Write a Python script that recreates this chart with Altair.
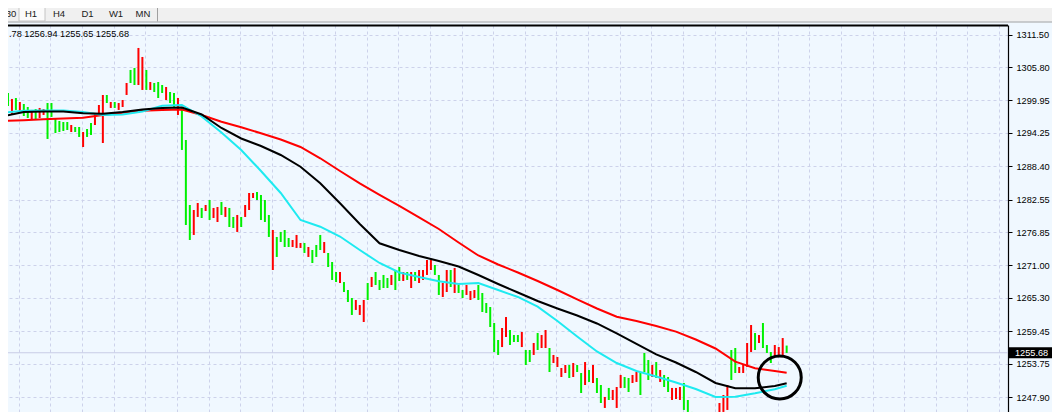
import altair as alt
import pandas as pd

# ---------------- data ----------------
# one bar every 4 px (bar index i); high / low prices and bar colour (G = up, R = down)
BAR_HIGH = [
    1301.80, 1301.27, 1300.22, 1300.39, 1299.69, 1299.34, 1298.81, 1298.29, 1298.46, 1298.64,
    1298.46, 1299.51, 1299.51, 1296.88, 1296.35, 1296.18, 1296.18, 1295.65, 1295.30, 1295.30,
    1294.42, 1294.95, 1296.00, 1297.76, 1299.16, 1300.92, 1300.92, 1299.69, 1299.69, 1299.51,
    1300.04, 1303.02, 1305.31, 1305.66, 1309.17, 1307.59, 1305.31, 1303.20, 1303.02, 1303.20,
    1302.67, 1302.32, 1301.44, 1301.27, 1300.39, 1298.81, 1293.02, 1281.61, 1280.73, 1281.96,
    1281.09, 1281.61, 1282.49, 1281.09, 1281.26, 1282.14, 1281.26, 1281.09, 1279.51, 1279.86,
    1279.51, 1281.61, 1283.72, 1283.72, 1283.89, 1283.37, 1282.49, 1279.86, 1277.22, 1276.00,
    1276.88, 1277.22, 1275.82, 1275.47, 1276.35, 1274.94, 1274.94, 1274.24, 1273.71, 1274.59,
    1276.35, 1275.12, 1273.19, 1271.61, 1269.85, 1269.85, 1268.09, 1266.69, 1265.29, 1264.94,
    1264.06, 1264.94, 1267.92, 1268.98, 1269.85, 1268.45, 1269.33, 1268.80, 1269.33, 1270.20,
    1270.73, 1269.85, 1269.85, 1269.85, 1269.85, 1270.20, 1270.20, 1271.96, 1271.96, 1271.08,
    1269.33, 1267.92, 1270.20, 1270.20, 1270.56, 1267.57, 1266.69, 1267.57, 1266.52, 1266.69,
    1267.57, 1266.17, 1264.41, 1263.71, 1260.90, 1257.92, 1260.02, 1261.95, 1259.67, 1258.79,
    1258.79, 1259.32, 1256.16, 1256.16, 1257.39, 1259.14, 1258.79, 1259.67, 1256.51, 1255.29,
    1254.93, 1253.00, 1253.53, 1253.53, 1253.88, 1253.53, 1252.12, 1254.05, 1252.65, 1253.53,
    1251.25, 1250.02, 1247.92, 1249.50, 1249.15, 1249.67, 1251.78, 1251.42, 1251.25, 1251.78,
    1252.30, 1252.30, 1255.64, 1254.41, 1253.53, 1254.05, 1252.65, 1251.78, 1251.42, 1249.50,
    1249.50, 1249.67, 1250.37, 1247.39, 1245.29, 1244.76, 1244.23, 1243.88, 1244.23, 1244.58,
    1244.93, 1246.86, 1248.26, 1250.02, 1256.16, 1256.51, 1253.18, 1253.53, 1257.39, 1260.55,
    1259.14, 1258.79, 1260.90, 1257.04, 1255.81, 1257.04, 1256.68, 1258.26, 1256.94,
]
BAR_LOW = [
    1298.64, 1298.99, 1297.41, 1298.29, 1297.76, 1297.23, 1296.88, 1296.53, 1296.53, 1296.88,
    1297.41, 1293.20, 1297.06, 1294.25, 1294.42, 1294.60, 1294.77, 1294.42, 1294.42, 1293.55,
    1291.79, 1293.55, 1293.90, 1295.65, 1297.41, 1292.49, 1299.51, 1298.64, 1298.64, 1298.29,
    1298.81, 1300.92, 1303.02, 1302.67, 1302.67, 1301.80, 1301.80, 1301.80, 1301.44, 1300.39,
    1301.27, 1300.04, 1299.51, 1298.81, 1297.41, 1291.27, 1278.10, 1275.47, 1276.35, 1279.51,
    1279.33, 1280.56, 1278.98, 1279.33, 1278.63, 1279.86, 1279.51, 1277.75, 1277.58, 1276.88,
    1277.75, 1279.51, 1280.73, 1282.84, 1282.49, 1278.98, 1278.63, 1276.00, 1270.20, 1272.49,
    1275.12, 1274.24, 1274.24, 1274.24, 1274.07, 1274.07, 1273.19, 1272.49, 1271.43, 1272.49,
    1273.71, 1273.19, 1270.73, 1268.45, 1268.09, 1267.92, 1266.34, 1264.59, 1262.31, 1263.19,
    1262.31, 1261.08, 1264.94, 1267.22, 1267.57, 1266.69, 1267.04, 1267.04, 1267.57, 1266.69,
    1268.27, 1268.27, 1268.45, 1267.04, 1268.27, 1267.92, 1268.45, 1269.33, 1270.20, 1269.33,
    1265.82, 1265.46, 1266.34, 1267.22, 1266.17, 1266.17, 1265.29, 1265.82, 1264.94, 1265.29,
    1264.94, 1262.83, 1262.66, 1260.20, 1255.81, 1255.29, 1256.68, 1258.44, 1257.04, 1257.56,
    1257.56, 1256.68, 1253.53, 1254.05, 1255.29, 1256.16, 1256.51, 1256.51, 1252.30, 1253.88,
    1253.18, 1251.42, 1252.12, 1251.25, 1251.42, 1252.30, 1248.61, 1250.02, 1250.55, 1250.37,
    1248.61, 1246.86, 1245.99, 1247.39, 1247.39, 1245.99, 1249.50, 1249.50, 1248.79, 1250.37,
    1250.55, 1248.26, 1252.30, 1250.90, 1251.42, 1251.25, 1250.55, 1249.67, 1248.79, 1247.39,
    1247.56, 1247.39, 1245.64, 1245.29, 1243.01, 1242.48, 1241.78, 1242.13, 1241.78, 1242.48,
    1242.83, 1244.76, 1245.29, 1245.64, 1250.90, 1252.12, 1252.12, 1252.12, 1253.18, 1255.81,
    1256.16, 1257.39, 1256.51, 1255.64, 1253.88, 1254.93, 1255.29, 1255.29, 1255.65,
]
BAR_DIR = list(
    "RGRGRGGRGR" "RGGGGGGRGG" "RGGRRRGRGR" "RRGGRRGRGG" "GRGGRGGGRR"
    "GRGRRGRGGR" "GRRRGGGGRG" "GGGRRRGRGG" "GRGGGRGGGR" "RRGRGGGGRG"
    "GRGRGRRRRG" "GRRGRGGRRR" "GGGGGGRRGG" "GRGGRGRRGR" "RRRGRGGRGR"
    "GGRGRRRGGR" "RGGGRGRGGR" "RRGGGRGRGR" "GRRRGGRRRR" "GRGGGRRRG"
)

# moving averages, sampled at these bar indices
MA_INDEX = [0, 5, 10, 15, 20, 25, 30, 35, 40, 45, 50, 55, 60, 65, 70, 75, 80, 85, 90, 95,
            100, 105, 110, 115, 120, 125, 130, 135, 140, 145, 150, 155, 160, 165, 170, 175,
            180, 185, 190, 195, 198]
MA_SLOW = [1296.35, 1296.50, 1296.65, 1296.79, 1296.93, 1297.41, 1297.81, 1298.16, 1298.29, 1298.37,
           1297.41, 1296.23, 1295.25, 1294.20, 1293.11, 1291.79, 1289.81, 1287.58, 1285.39, 1283.37,
           1281.44, 1279.42, 1277.40, 1275.03, 1272.75, 1271.17, 1269.77, 1268.27, 1266.69, 1265.03,
           1263.45, 1262.01, 1261.25, 1260.38, 1259.38, 1258.01, 1256.43, 1254.11, 1252.95, 1252.48,
           1252.18]
MA_MID = [1297.23, 1297.93, 1298.02, 1298.02, 1297.71, 1297.62, 1297.93, 1298.37, 1298.64, 1298.72,
          1297.50, 1295.13, 1293.28, 1291.97, 1290.39, 1288.33, 1285.42, 1281.91, 1278.28, 1274.89,
          1273.71, 1272.66, 1271.78, 1270.82, 1269.33, 1267.75, 1266.26, 1264.76, 1263.45, 1262.22,
          1260.82, 1259.06, 1257.22, 1255.38, 1253.97, 1252.30, 1250.37, 1249.44, 1249.44, 1249.85,
          1250.32]
MA_FAST = [1297.85, 1298.13, 1298.20, 1298.18, 1297.93, 1297.41, 1297.50, 1298.02, 1299.04, 1299.16,
           1297.14, 1294.34, 1291.27, 1287.58, 1283.72, 1278.98, 1277.80, 1276.08, 1273.71, 1271.43,
           1269.77, 1268.98, 1268.22, 1267.75, 1267.92, 1266.69, 1265.47, 1263.76, 1261.25, 1258.53,
           1255.90, 1253.88, 1252.48, 1251.51, 1250.46, 1249.32, 1247.92, 1247.97, 1248.57, 1249.27,
           1249.90]

Y_TICKS = [1311.50, 1305.80, 1299.95, 1294.25, 1288.40, 1282.55,
           1276.85, 1271.00, 1265.30, 1259.45, 1253.75, 1247.90]
LAST_PRICE = [1255.68]
INFO_TEXT = ".78 1256.94 1255.65 1255.68"
TABS = ["M30", "H1", "H4", "D1", "W1", "MN"]
CIRCLE_AT = {"i": [196.25], "p": [1251.34]}

# ---------------- tables ----------------
bars = pd.DataFrame({"i": list(range(len(BAR_HIGH))), "hi": BAR_HIGH, "lo": BAR_LOW, "d": BAR_DIR})
ma = pd.DataFrame({"i": MA_INDEX, "slow": MA_SLOW, "mid": MA_MID, "fast": MA_FAST})
last = pd.DataFrame({"p": LAST_PRICE, "t": [f"{v:.2f}" for v in LAST_PRICE]})
circ = pd.DataFrame(CIRCLE_AT)

W, H = 1000, 387
PAD_R = 44
FONT = "Liberation Sans"
GRID_C = "#CDD2EA"

xscale = alt.Scale(domain=[1, 254], nice=False, zero=False)
yscale = alt.Scale(domain=[1245.28, 1313.20], nice=False, zero=False)
xaxis = alt.Axis(values=[3.75 + 8 * k for k in range(32)], grid=True, labels=False, ticks=False,
                 domain=False, title=None, gridColor=GRID_C, gridDash=[3, 3], gridWidth=1)
yaxis = alt.Axis(orient="right", values=Y_TICKS, format=".2f", grid=True, gridColor=GRID_C,
                 gridDash=[3, 3], gridWidth=1, domainColor="black", domainWidth=1.2,
                 tickColor="black", tickSize=4, labelFont=FONT, labelFontSize=9.2,
                 labelColor="black", labelPadding=4, labelOverlap=False, title=None)

X = lambda f: alt.X(f, scale=xscale, axis=xaxis, title=None)
Y = lambda f: alt.Y(f, scale=yscale, axis=yaxis, title=None)

bid = alt.Chart(last).mark_rule(color="#C9CDE6", strokeWidth=1).encode(y=Y("p:Q"))

bar_layer = alt.Chart(bars).mark_rule(strokeWidth=2, clip=True).encode(
    x=X("i:Q"), y=Y("hi:Q"), y2="lo:Q",
    color=alt.Color("d:N", scale=alt.Scale(domain=["G", "R"], range=["#00F000", "#FF0000"]), legend=None),
)

def ma_line(field, colour):
    return alt.Chart(ma).mark_line(color=colour, strokeWidth=2, clip=True).encode(x=X("i:Q"), y=Y(f"{field}:Q"))

slow = ma_line("slow", "#FF0000")
fast = ma_line("fast", "#1EEAF0")
mid = ma_line("mid", "#000000")

circle = alt.Chart(circ).mark_point(shape="circle", size=1849, filled=False, color="black",
                                    strokeWidth=3, opacity=1).encode(x=X("i:Q"), y=Y("p:Q"))

price_box = alt.Chart(last).mark_point(shape="M-1,-0.256H1V0.256H-1Z", size=1849, filled=True,
                                       color="black", opacity=1).encode(x=alt.value(W + 22.5), y=Y("p:Q"))
price_txt = alt.Chart(last).mark_text(align="left", baseline="middle", color="white", font=FONT,
                                      fontSize=9.2).encode(x=alt.value(W + 7), y=Y("p:Q"), text="t:N")

frame_top = alt.Chart(last).mark_rule(color="black", strokeWidth=2).encode(
    x=alt.value(0), x2=alt.value(W), y=alt.value(0.5))

info = alt.Chart(last).mark_text(align="left", baseline="middle", font=FONT, fontSize=9.2,
                                 color="black").encode(x=alt.value(1), y=alt.value(9),
                                                       text=alt.value(INFO_TEXT))

# tab strip above the chart
tab_bg = alt.Chart(last).mark_rect(color="#F0F0F0").encode(
    x=alt.value(-2), x2=alt.value(W + PAD_R + 2), y=alt.value(-18), y2=alt.value(-3.5))
tab_line = alt.Chart(last).mark_rule(color="#A0A0A0", strokeWidth=1).encode(
    x=alt.value(-2), x2=alt.value(W + PAD_R + 2), y=alt.value(-3))
tab_sel = alt.Chart(last).mark_rect(color="#FBFBFB", stroke="#C4C4C4", strokeWidth=1).encode(
    x=alt.value(11), x2=alt.value(37), y=alt.value(-19), y2=alt.value(-4))
tab_end = alt.Chart(last).mark_rule(color="#A0A0A0", strokeWidth=1).encode(
    x=alt.value(149.5), y=alt.value(-18), y2=alt.value(-3.5))
tab_x = [-1, 23, 51, 79.5, 108, 135]
tab_texts = [
    alt.Chart(last).mark_text(align="center", baseline="middle", font=FONT, fontSize=9.5,
                              color="#202020").encode(x=alt.value(px), y=alt.value(-11.5),
                                                      text=alt.value(label))
    for label, px in zip(TABS, tab_x)
]

chart = alt.layer(
    bid, bar_layer, slow, fast, mid, circle, price_box, price_txt, frame_top, info,
    tab_bg, tab_line, tab_sel, tab_end, *tab_texts,
).properties(
    width=W, height=H,
    padding={"left": 0, "top": 17, "right": PAD_R, "bottom": 0},
    autosize=alt.AutoSizeParams(type="none"),
    background="#F0F8FF",
).configure_view(stroke=None, fill="#F0F8FF")

chart.save("out.html", embed_options={"renderer": "svg", "actions": False})
